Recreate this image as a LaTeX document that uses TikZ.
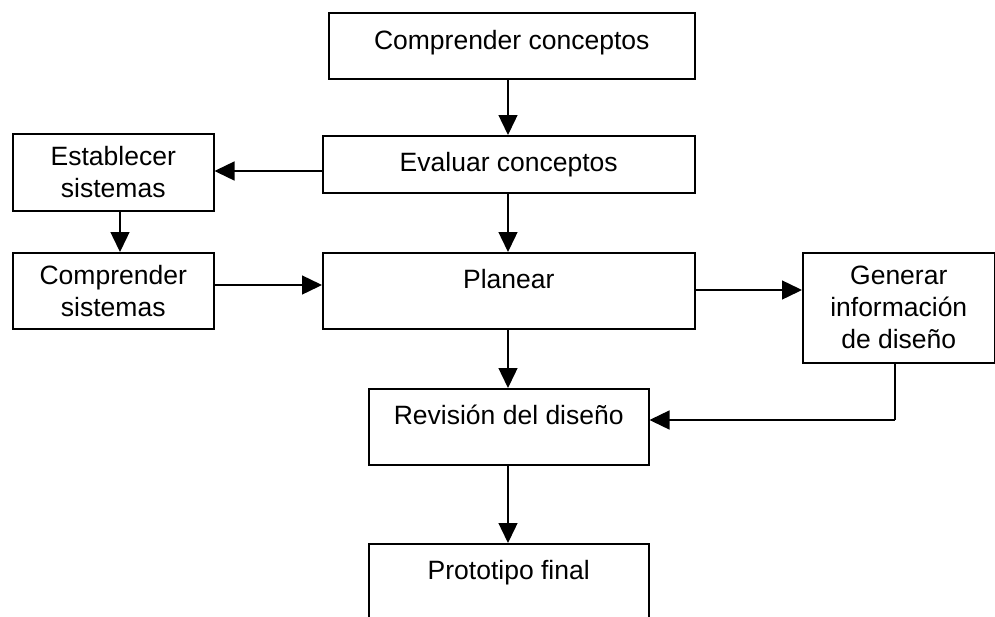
\documentclass[tikz,border=0pt]{standalone}
\usepackage{fontspec}
\setmainfont{Liberation Sans}
\usetikzlibrary{arrows.meta}
\begin{document}
\begin{tikzpicture}[x=1pt,y=-1pt,
  box/.style={draw=black, line width=1.5pt, rectangle, anchor=north west, inner sep=0pt,
    font=\fontsize{26.5}{32}\selectfont, align=center},
  toptext/.style={anchor=north, inner sep=0pt, text height=19.5pt, text depth=5.5pt,
    font=\fontsize{26.5}{32}\selectfont, align=center},
  arr/.style={line width=1.4pt, -{Triangle[length=20pt,width=19pt]}},
  ln/.style={line width=1.4pt}]
\useasboundingbox (0,0) rectangle (995,616);
\fill[white] (0,0) rectangle (995,616);

% boxes
\node[box, minimum width=366pt, minimum height=66pt] (cc) at (328,12) {};
\node[toptext] (cct) at ([yshift=-18pt]cc.north) {Comprender conceptos};
\node[box, minimum width=372pt, minimum height=57pt] (ev) at (322,135) {Evaluar conceptos};
\node[box, minimum width=201pt, minimum height=77pt] (es) at (12,133) {Establecer\\sistemas};
\node[box, minimum width=201pt, minimum height=76pt] (cs) at (12,252) {Comprender\\sistemas};
\node[box, minimum width=372pt, minimum height=76pt] (pl) at (322,252) {};
\node[toptext] (plt) at ([yshift=-16.5pt]pl.north) {Planear};
\node[box, minimum width=192pt, minimum height=110pt] (gi) at (802,252) {Generar\\información\\de diseño};
\node[box, minimum width=280pt, minimum height=76pt] (rd) at (368,388) {};
\node[toptext] (rdt) at ([yshift=-17pt]rd.north) {Revisión del diseño};
\node[box, minimum width=280pt, minimum height=90pt] (pf) at (368,543) {};
\node[toptext] (pft) at ([yshift=-17pt]pf.north) {Prototipo final};

% connectors
\coordinate (ax) at (508,0);
\draw[arr] (cc.south -| ax) -- (ev.north -| ax);
\draw[arr] (ev.west |- 0,171) -- (es.east |- 0,171);
\draw[arr] (es.south -| 120,0) -- (cs.north -| 120,0);
\draw[arr] (cs.east |- 0,285) -- (pl.west |- 0,285);
\draw[arr] (ev.south -| ax) -- (pl.north -| ax);
\draw[arr] (pl.east |- 0,290) -- (gi.west |- 0,290);
\draw[arr] (pl.south -| ax) -- (rd.north -| ax);
\coordinate (turn) at (895,420);
\draw[ln] (gi.south -| turn) -- (turn);
\draw[arr] (turn) -- (rd.east |- turn);
\draw[arr] (rd.south -| ax) -- (pf.north -| ax);
\end{tikzpicture}
\end{document}
